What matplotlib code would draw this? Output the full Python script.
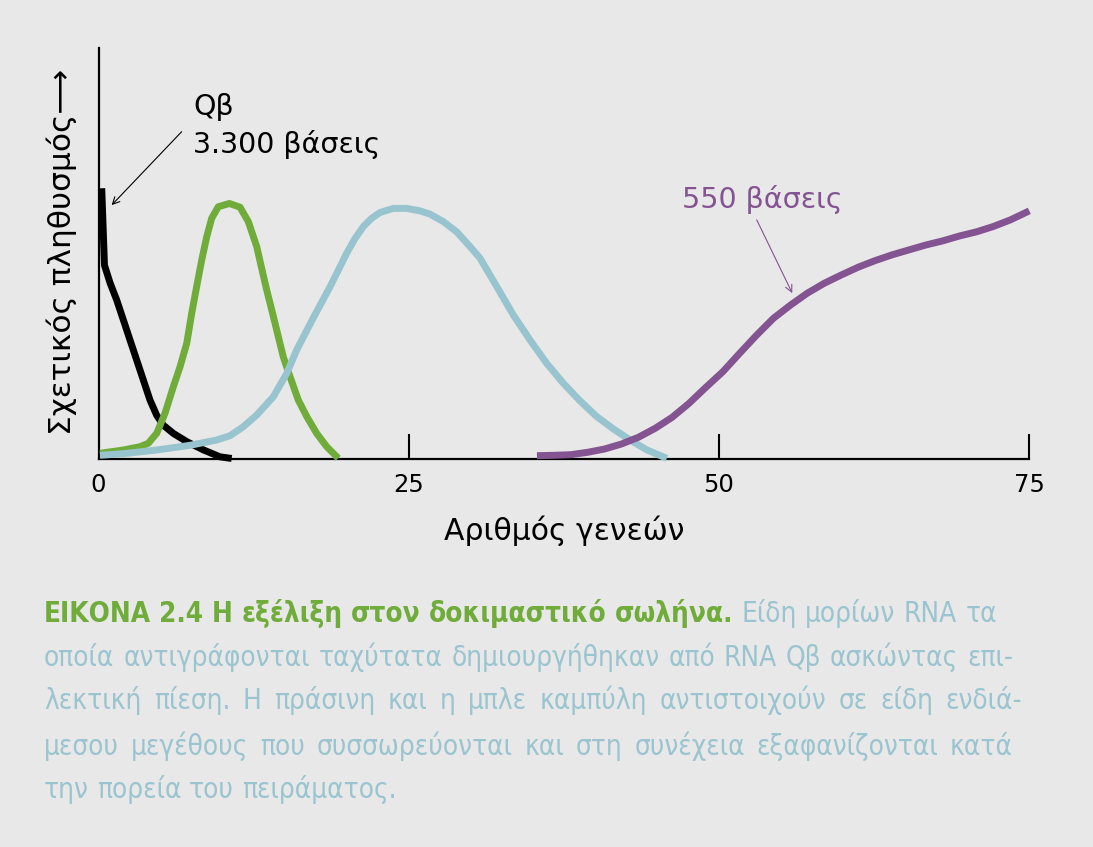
import matplotlib
matplotlib.use("Agg")
import matplotlib.pyplot as plt
from matplotlib.transforms import IdentityTransform

# ---------------- data ----------------
gen_black = [0.26, 0.48, 0.93, 1.47, 2.0, 2.54, 3.08, 3.61, 4.15, 4.69,
             5.22, 6.03, 7.11, 8.44, 9.79, 10.73]
pop_black = [65.9, 47.2, 42.9, 38.7, 33.9, 29.0, 24.1, 19.3, 14.4, 10.7,
             8.3, 6.3, 4.3, 2.3, 0.6, 0.2]

gen_green = [0.12, 2.0, 3.34, 4.01, 4.69, 5.36, 6.03, 6.57, 7.11, 7.51,
             7.91, 8.32, 8.72, 9.12, 9.65, 10.54, 11.40, 12.07, 12.75, 13.15,
             13.55, 13.96, 14.36, 14.89, 15.43, 16.10, 16.78, 17.58, 18.39,
             19.32]
pop_green = [1.46, 2.26, 3.06, 3.89, 6.32, 11.2, 17.65, 22.5, 28.2, 35.5,
             42.0, 48.5, 54.1, 58.6, 61.4, 62.2, 61.3, 57.8, 51.7, 46.4,
             41.2, 36.3, 31.4, 24.9, 20.1, 14.4, 10.4, 6.3, 3.06,
             0.24]

gen_blue = [0.12, 2.0, 4.69, 7.37, 9.52, 10.6, 11.67, 12.75, 14.09, 15.17,
            15.97, 17.31, 18.65, 20.0, 20.67, 21.34, 22.01, 22.68, 23.75,
            24.83, 25.91, 26.71, 27.78, 28.86, 29.94, 30.74, 32.09, 33.42,
            34.77, 36.12, 37.45, 38.80, 40.14, 41.48, 42.83, 44.17, 45.79]
pop_blue = [0.97, 1.36, 2.26, 3.40, 4.69, 5.74, 7.93, 10.77, 15.22, 20.9,
            26.6, 34.4, 41.9, 50.1, 53.7, 56.6, 58.6, 60.0, 61.0,
            61.0, 60.4, 59.6, 57.8, 55.3, 51.7, 48.9, 42.0, 35.1,
            29.0, 23.3, 18.5, 14.2, 10.4, 7.4, 4.7, 2.3, 0.24]

gen_purple = [35.33, 36.69, 38.05, 39.41, 40.77, 42.14, 43.50, 44.86, 46.22,
              47.58, 48.94, 50.31, 51.67, 53.03, 54.39, 55.76, 57.12, 58.48,
              59.84, 61.21, 62.57, 63.93, 65.29, 66.66, 68.02, 69.38, 70.74,
              72.10, 73.47, 75.0]
pop_purple = [0.88, 0.97, 1.12, 1.70, 2.50, 3.72, 5.35, 7.54, 10.2,
              13.6, 17.5, 21.3, 25.8, 30.2, 34.3, 37.5, 40.4, 42.8,
              44.8, 46.7, 48.3, 49.7, 50.9, 52.1, 53.1, 54.3, 55.3,
              56.6, 58.2, 60.4]

xticks = [0, 25, 50, 75]
xtick_labels = ["0", "25", "50", "75"]

label_qb = ["Qβ", "3.300 βάσεις"]
label_550 = "550 βάσεις"
xlabel = "Αριθμός γενεών"
ylabel = "Σχετικός πληθυσμός⟶"

caption_green = "ΕΙΚΟΝΑ 2.4 Η εξέλιξη στον δοκιμαστικό σωλήνα."
caption_lines = [
    "Είδη μορίων RNA τα",
    "οποία αντιγράφονται ταχύτατα δημιουργήθηκαν από RNA Qβ ασκώντας επι-",
    "λεκτική πίεση. Η πράσινη και η μπλε καμπύλη αντιστοιχούν σε είδη ενδιά-",
    "μεσου μεγέθους που συσσωρεύονται και στη συνέχεια εξαφανίζονται κατά",
    "την πορεία του πειράματος.",
]

# ---------------- style ----------------
BG = "#e8e8e8"
GREEN = "#6fac3a"
BLUE = "#97c4ce"
PURPLE = "#845391"
CAP_BLUE = "#9ac4cf"

W, H = 1093, 847
fig = plt.figure(figsize=(W / 100, H / 100), dpi=100, facecolor=BG)
plt.rcParams["font.family"] = ["DejaVu Sans"]

# axes placement in pixels (top-down coords)
ax_left, ax_right = 98.5, 1029.3
ax_top, ax_bottom = 48.0, 459.3
ax = fig.add_axes([ax_left / W, (H - ax_bottom) / H,
                   (ax_right - ax_left) / W, (ax_bottom - ax_top) / H])
ax.set_facecolor(BG)
ax.set_xlim(0, 75)
ax.set_ylim(0, 100)

lw = 5.0
common = dict(lw=lw, solid_capstyle="butt", solid_joinstyle="round",
              clip_on=False)
ax.plot(gen_black, pop_black, color="black", zorder=3, **common)
ax.plot(gen_green, pop_green, color=GREEN, zorder=4, **common)
ax.plot(gen_blue, pop_blue, color=BLUE, zorder=5, **common)
ax.plot(gen_purple, pop_purple, color=PURPLE, zorder=6, **common)

for s in ["top", "right"]:
    ax.spines[s].set_visible(False)
for s in ["left", "bottom"]:
    ax.spines[s].set_linewidth(1.6)
    ax.spines[s].set_color("black")

ax.set_xticks(xticks)
ax.set_xticklabels(xtick_labels)
ax.tick_params(axis="x", direction="in", length=18, width=1.5, pad=10,
               labelsize=17.5, colors="black")
ax.get_xticklines()[0].set_visible(False)
ax.set_yticks([])

ax.set_xlabel(xlabel, fontsize=21.5, labelpad=13)
ax.set_ylabel(ylabel, fontsize=22.5)
ax.yaxis.set_label_coords(-(ax_left - 77) / (ax_right - ax_left), 0.503)

# annotations
ax.text(7.61, 83.6, label_qb[0], fontsize=20.5, va="baseline", ha="left")
ax.text(7.61, 74.4, label_qb[1], fontsize=20.5, va="baseline", ha="left")
ax.annotate("", xy=(1.06, 61.8), xytext=(6.70, 79.65),
            arrowprops=dict(arrowstyle="->,head_length=0.5,head_width=0.25",
                            color="black", lw=0.8, shrinkA=0, shrinkB=0))
ax.text(47.0, 61.0, label_550, fontsize=20.5, va="baseline", ha="left",
        color=PURPLE)
ax.annotate("", xy=(55.9, 40.4), xytext=(53.04, 58.2),
            arrowprops=dict(arrowstyle="->,head_length=0.5,head_width=0.25",
                            color=PURPLE, lw=0.8, shrinkA=0, shrinkB=0))

# ---------------- caption (justified, word by word) ----------------
fig.canvas.draw()
renderer = fig.canvas.get_renderer()
cap_size = 20
ident = IdentityTransform()


def make(word, color, bold):
    return fig.text(0, 0, word, transform=ident, fontsize=cap_size,
                    color=color, fontweight="bold" if bold else "normal",
                    fontstretch="condensed", va="baseline", ha="left")


line_specs = []
first = [(w, GREEN, True) for w in caption_green.split()] + \
        [(w, CAP_BLUE, False) for w in caption_lines[0].split()]
line_specs.append(first)
for ln in caption_lines[1:]:
    line_specs.append([(w, CAP_BLUE, False) for w in ln.split()])

baselines = [622.3, 666.0, 709.3, 755.0, 798.0]
rights = [997, 1013, 1022, 1013, None]
left = 44.0

# natural space width
t1 = make("x x", CAP_BLUE, False)
t2 = make("xx", CAP_BLUE, False)
space_w = (t1.get_window_extent(renderer).width
           - t2.get_window_extent(renderer).width)
t1.remove()
t2.remove()

for spec, base, right in zip(line_specs, baselines, rights):
    texts = [make(w, c, b) for (w, c, b) in spec]
    widths = [t.get_window_extent(renderer).width for t in texts]
    if right is not None and len(texts) > 1:
        gap = (right - left - sum(widths)) / (len(texts) - 1)
    else:
        gap = space_w
    x = left
    for t, wdt in zip(texts, widths):
        t.set_position((x, H - base))
        x += wdt + gap

fig.savefig("out.png", dpi=100, facecolor=BG)
